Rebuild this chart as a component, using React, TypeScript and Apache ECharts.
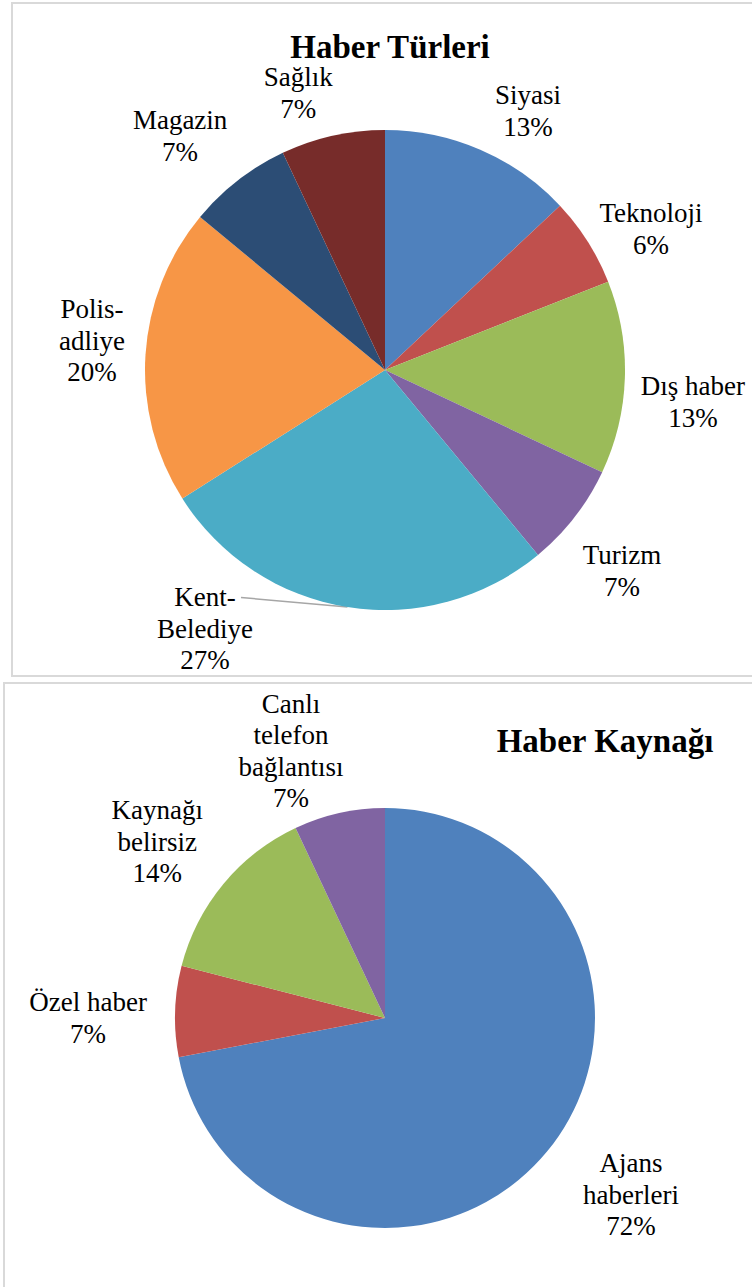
import React, { useEffect, useRef } from "react";
import * as echarts from "echarts";

// ---- Data ----
const topCategories = ["Siyasi", "Teknoloji", "Dış haber", "Turizm", "Kent-Belediye", "Polis-adliye", "Magazin", "Sağlık"];
const topValues = [13, 6, 13, 7, 27, 20, 7, 7];
const topColors = ["#4F81BD", "#C0504D", "#9BBB59", "#8064A2", "#4BACC6", "#F79646", "#2C4D75", "#772C2A"];
const topTitle = "Haber Türleri";

const bottomCategories = ["Ajans haberleri", "Özel haber", "Kaynağı belirsiz", "Canlı telefon bağlantısı"];
const bottomValues = [72, 7, 14, 7];
const bottomColors = ["#4F81BD", "#C0504D", "#9BBB59", "#8064A2"];
const bottomTitle = "Haber Kaynağı";

// how each category label is wrapped on the chart
const wrapped: Record<string, string> = {
  "Kent-Belediye": "Kent-\nBelediye",
  "Polis-adliye": "Polis-\nadliye",
  "Ajans haberleri": "Ajans\nhaberleri",
  "Kaynağı belirsiz": "Kaynağı\nbelirsiz",
  "Canlı telefon bağlantısı": "Canlı\ntelefon\nbağlantısı",
};

// ---- Layout (label placement: angle from 12 o'clock in degrees, distance in radii) ----
const TOP_C = [385, 370];
const TOP_R = 240;
const BOT_C = [385, 1018];
const BOT_R = 210;
const topLabelPolar = [
  [28.9, 1.233],
  [62.1, 1.254],
  [95.9, 1.29],
  [130.3, 1.295],
  [214.8, 1.314],
  [275.7, 1.227],
  [318.8, 1.296],
  [342.6, 1.21],
];
const bottomLabelPolar = [
  [125.7, 1.443],
  [270, 1.414],
  [307.7, 1.371],
  [340.6, 1.348],
];

const FONT = "Liberation Serif";
const LINE_H = 31.5;

function makeLayout(c: number[], r: number, polar: number[][], leaderIdx: number) {
  return (params: any) => {
    const p = polar[params.dataIndex];
    const a = (p[0] * Math.PI) / 180;
    const x = c[0] + Math.sin(a) * p[1] * r;
    const y = c[1] - Math.cos(a) * p[1] * r;
    const out: any = { x, y, align: "center", verticalAlign: "middle" };
    if (params.dataIndex === leaderIdx && params.labelLinePoints) {
      const start = params.labelLinePoints[0];
      const h = params.labelRect.height;
      const w = params.labelRect.width;
      const endX = x + w / 2 - 12;
      const endY = y - h / 2 + LINE_H / 2;
      out.labelLinePoints = [start, [endX, endY]];
    }
    return out;
  };
}

function pieSeries(
  cats: string[],
  vals: number[],
  colors: string[],
  c: number[],
  r: number,
  polar: number[][],
  leaderIdx: number
) {
  return {
    type: "pie",
    center: c,
    radius: r,
    startAngle: 90,
    clockwise: true,
    avoidLabelOverlap: false,
    percentPrecision: 0,
    silent: true,
    itemStyle: { borderWidth: 0 },
    label: {
      show: true,
      position: "outside",
      formatter: (p: any) => `${wrapped[p.name] || p.name}\n${p.percent}%`,
      fontFamily: FONT,
      fontSize: 27,
      fontWeight: "normal",
      lineHeight: LINE_H,
      color: "#000",
      align: "center",
    },
    labelLine: { show: false, lineStyle: { color: "#A6A6A6", width: 1.5 } },
    labelLayout: makeLayout(c, r, polar, leaderIdx),
    data: cats.map((name, i) => ({
      name,
      value: vals[i],
      itemStyle: { color: colors[i] },
      labelLine: { show: i === leaderIdx, length: 10, length2: 10 },
    })),
  };
}

export default function App() {
  const ref = useRef<HTMLDivElement>(null);
  useEffect(() => {
    if (!ref.current) return;
    const chart = echarts.init(ref.current, null, { renderer: "svg" });
    chart.setOption({
      animation: false,
      backgroundColor: "#fff",
      textStyle: { fontFamily: FONT },
      title: [
        {
          text: topTitle,
          left: 385,
          top: 25,
          textAlign: "center",
          textStyle: { fontFamily: FONT, fontSize: 33, fontWeight: "bold", color: "#000" },
        },
        {
          text: bottomTitle,
          left: 600,
          top: 719,
          textAlign: "center",
          textStyle: { fontFamily: FONT, fontSize: 33, fontWeight: "bold", color: "#000" },
        },
      ],
      graphic: [
        {
          type: "rect",
          shape: { x: 12, y: 3, width: 760, height: 673 },
          style: { fill: "none", stroke: "#D9D9D9", lineWidth: 2 },
          silent: true,
        },
        {
          type: "rect",
          shape: { x: 4, y: 683, width: 760, height: 700 },
          style: { fill: "none", stroke: "#D9D9D9", lineWidth: 2 },
          silent: true,
        },
      ],
      series: [
        pieSeries(topCategories, topValues, topColors, TOP_C, TOP_R, topLabelPolar, 4),
        pieSeries(bottomCategories, bottomValues, bottomColors, BOT_C, BOT_R, bottomLabelPolar, -1),
      ],
    });
    return () => chart.dispose();
  }, []);
  return (
    <div
      ref={ref}
      style={{ position: "fixed", left: 0, top: 0, width: 752, height: 1287, background: "#fff" }}
    />
  );
}
